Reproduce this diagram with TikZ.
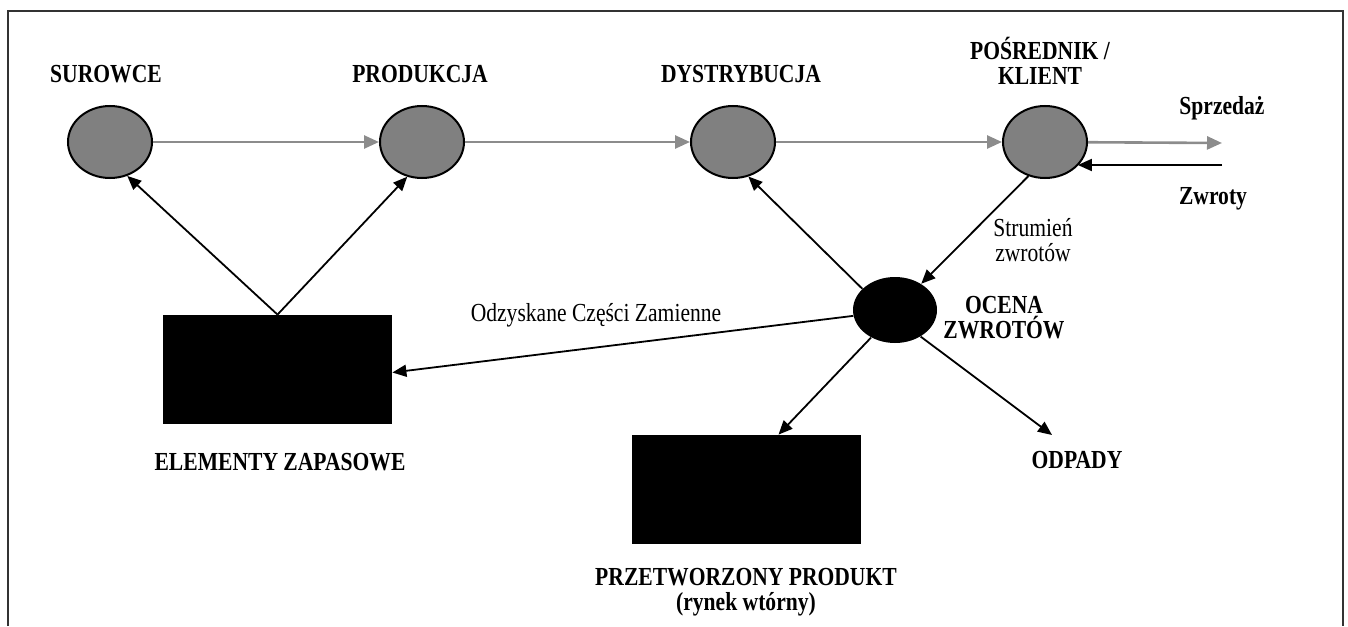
\documentclass[tikz,border=0pt]{standalone}
\usepackage{fontspec}
\setmainfont[FakeStretch=0.83]{Liberation Serif}
\usetikzlibrary{shapes.geometric,arrows.meta}

\definecolor{szary}{RGB}{140,140,140}
\definecolor{kolo}{RGB}{128,128,128}

\tikzset{
  etap/.style={ellipse, draw=black, line width=1pt, fill=kolo,
    minimum width=42pt, minimum height=36pt, inner sep=0pt},
  ocenakolo/.style={ellipse, fill=black, minimum width=42pt,
    minimum height=33pt, inner sep=0pt},
  blok/.style={rectangle, fill=black, minimum width=114.5pt,
    minimum height=54.5pt, inner sep=0pt},
  naglowek/.style={font=\fontsize{13pt}{12.5pt}\selectfont\bfseries,
    align=center, inner sep=1pt},
  opis/.style={font=\fontsize{13pt}{12.5pt}\selectfont,
    align=center, inner sep=1pt},
  szara/.style={draw=szary, line width=1.3pt,
    -{Triangle[length=7.5pt,width=6.5pt]}},
  czarna/.style={draw=black, line width=0.9pt,
    -{Triangle[length=7pt,width=6pt]}},
}

\begin{document}
\begin{tikzpicture}[x=0.5pt,y=-0.5pt]

    \useasboundingbox (0,0) rectangle (1348,626);

    % Ramka
    \draw[line width=1pt, black!80] (8,626) -- (8,11) -- (1343,11) -- (1343,626);

    % Etapy (szare koła)
    \node[etap] (surowce) at (110,142) {};
    \node[etap] (produkcja) at (422,142) {};
    \node[etap] (dystrybucja) at (733,142) {};
    \node[etap] (klient) at (1045,142) {};

    % Ocena zwrotów i prostokąty
    \node[ocenakolo] (ocena) at (895,310) {};
    \node[blok] (zapasowe) at (277.5,369.5) {};
    \node[blok] (przetworzony) at (746.5,489.5) {};

    % Punkty pomocnicze
    \coordinate (sprzedazkoniec) at (1222,143);
    \coordinate (zwrotypoczatek) at (1222,165);
    \coordinate (odpadywe) at (1052,435);

    % Napisy
    \node[naglowek] (surowcetxt) at (106,74) {SUROWCE};
    \node[naglowek] (produkcjatxt) at (420,74) {PRODUKCJA};
    \node[naglowek] (dystrybucjatxt) at (741,74) {DYSTRYBUCJA};
    \node[naglowek] (klienttxt) at (1040,61) {POŚREDNIK /\\KLIENT};
    \node[naglowek] (sprzedaz) at (1222,108) {Sprzedaż};
    \node[naglowek] (zwroty) at (1213,199) {Zwroty};
    \node[opis] (strumien) at (1033,240) {Strumień\\zwrotów};
    \node[naglowek] (ocenatxt) at (1004,317.5) {OCENA\\ZWROTÓW};
    \node[opis] (odzyskane) at (596,315) {Odzyskane Części Zamienne};
    \node[naglowek] (zapasowetxt) at (280,462) {ELEMENTY ZAPASOWE};
    \node[naglowek] (odpady) at (1077,460) {ODPADY};
    \node[naglowek] (przetworzonytxt) at (746,592)
        {PRZETWORZONY PRODUKT\\(rynek wtórny)};

    % Przepływ główny
    \draw[szara] (surowce) -- (produkcja);
    \draw[szara] (produkcja) -- (dystrybucja);
    \draw[szara] (dystrybucja) -- (klient);
    \draw[szara] (klient) -- (sprzedazkoniec);
    \draw[czarna] (zwrotypoczatek) -- (zwrotypoczatek -| klient.-36);

    % Przepływ zwrotny
    \draw[czarna] (klient.-116) -- (ocena.45);
    \draw[czarna] (ocena.147) -- (dystrybucja.-66);
    \draw[czarna] (ocena.-172) -- ([yshift=-1.5pt]zapasowe.east);
    \draw[czarna] (ocena.-131) -- ([xshift=16pt]przetworzony.north);
    \draw[czarna] (ocena.-46) -- (odpadywe);
    \draw[czarna] (zapasowe.north) -- (surowce.-63);
    \draw[czarna] (zapasowe.north) -- (produkcja.-113);

\end{tikzpicture}
\end{document}
